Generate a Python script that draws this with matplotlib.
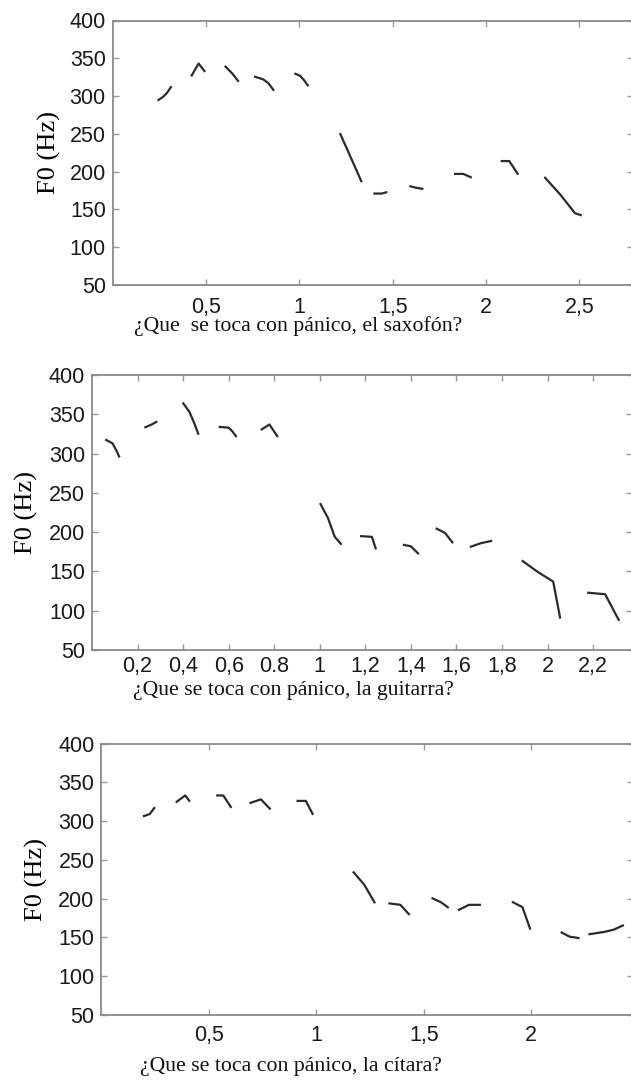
import numpy as np
import matplotlib.pyplot as plt

nan = np.nan

# F0 contours, segments separated by nan
sax_t = [0.24, 0.27, 0.29, 0.315, nan,
         0.42, 0.46, 0.495, nan,
         0.60, 0.64, 0.675, nan,
         0.757, 0.807, 0.834, 0.864, nan,
         0.973, 1.003, 1.025, 1.048, nan,
         1.217, 1.334, nan,
         1.396, 1.44, 1.471, nan,
         1.589, 1.619, 1.664, nan,
         1.828, 1.878, 1.923, nan,
         2.078, 2.124, 2.172, nan,
         2.312, 2.396, 2.476, 2.512]
sax_f = [294, 299, 304, 313, nan,
         326, 343, 332, nan,
         340, 330, 319, nan,
         326, 322, 317, 307, nan,
         330, 327, 321, 313, nan,
         251, 186, nan,
         171, 171, 173, nan,
         181, 179, 177, nan,
         197, 197, 192, nan,
         214, 214, 196, nan,
         193, 170, 145, 142]

gui_t = [0.058, 0.090, 0.107, 0.121, nan,
         0.230, 0.262, 0.287, nan,
         0.398, 0.428, 0.450, 0.468, nan,
         0.556, 0.600, 0.617, 0.635, nan,
         0.741, 0.779, 0.816, nan,
         1.001, 1.036, 1.066, 1.096, nan,
         1.177, 1.229, 1.247, nan,
         1.365, 1.400, 1.435, nan,
         1.509, 1.550, 1.585, nan,
         1.659, 1.708, 1.757, nan,
         1.887, 1.954, 2.025, 2.056, nan,
         2.174, 2.253, 2.315]
gui_f = [318, 313, 304, 295, nan,
         333, 337, 341, nan,
         365, 353, 338, 324, nan,
         334, 333, 328, 321, nan,
         330, 337, 321, nan,
         237, 218, 194, 184, nan,
         195, 194, 178, nan,
         184, 182, 172, nan,
         205, 199, 186, nan,
         181, 186, 189, nan,
         164, 150, 137, 90, nan,
         123, 121, 87]

cit_t = [0.193, 0.225, 0.249, nan,
         0.346, 0.390, 0.412, nan,
         0.534, 0.567, 0.605, nan,
         0.689, 0.742, 0.787, nan,
         0.908, 0.951, 0.985, nan,
         1.170, 1.223, 1.273, nan,
         1.335, 1.391, 1.434, nan,
         1.536, 1.582, 1.616, nan,
         1.659, 1.710, 1.766, nan,
         1.910, 1.959, 1.996, nan,
         2.137, 2.178, 2.225, nan,
         2.266, 2.337, 2.384, 2.431]
cit_f = [306, 309, 318, nan,
         324, 333, 325, nan,
         333, 333, 317, nan,
         323, 328, 315, nan,
         326, 326, 308, nan,
         235, 218, 194, nan,
         194, 192, 179, nan,
         201, 195, 188, nan,
         185, 192, 192, nan,
         196, 189, 160, nan,
         157, 151, 149, nan,
         154, 157, 160, 166]

sax_ticks = [0.5, 1, 1.5, 2, 2.5]
sax_labels = ['0,5', '1', '1,5', '2', '2,5']
gui_ticks = [0.2, 0.4, 0.6, 0.8, 1, 1.2, 1.4, 1.6, 1.8, 2, 2.2]
gui_labels = ['0,2', '0,4', '0,6', '0.8', '1', '1,2', '1,4', '1,6', '1,8', '2', '2,2']
cit_ticks = [0.5, 1, 1.5, 2]
cit_labels = ['0,5', '1', '1,5', '2']
f_ticks = [50, 100, 150, 200, 250, 300, 350, 400]

titles = ['¿Que  se toca con pánico, el saxofón?',
          '¿Que se toca con pánico, la guitarra?',
          '¿Que se toca con pánico, la cítara?']

W, H = 631, 1086
fig = plt.figure(figsize=(W / 100, H / 100), dpi=100)


def px_axes(left, top, right, bottom):
    return fig.add_axes([left / W, 1 - bottom / H, (right - left) / W, (bottom - top) / H])


def draw_panel(ax, t, f, xmax, ticks, labels, xpad, title, title_x, title_y, ylab_x):
    ax.plot(t, f, color='#2b2b2b', lw=1.6, solid_capstyle='butt')
    ax.set_xlim(0, xmax)
    ax.set_ylim(50, 400)
    ax.set_xticks(ticks)
    ax.set_xticklabels(labels)
    ax.set_yticks(f_ticks)
    for s in ax.spines.values():
        s.set_color('#8a8a8a')
        s.set_linewidth(1.3)
    ax.tick_params(direction='in', length=4, width=1, color='#9a9a9a',
                   top=True, right=True, labelsize=15.5, labelcolor='#1a1a1a')
    ax.tick_params(axis='x', pad=xpad)
    ax.tick_params(axis='y', pad=5)
    for lab in ax.get_xticklabels() + ax.get_yticklabels():
        lab.set_family('Liberation Sans')
    ax.set_ylabel('F0 (Hz)', family='Liberation Serif', fontsize=19)
    ax.yaxis.set_label_coords(ylab_x, 0.5)
    fig.text(title_x / W, 1 - title_y / H, title, family='Liberation Serif',
             fontsize=15.7, ha='center', va='center', color='#111111')


ax1 = px_axes(112.7, 20.5, 632.5, 285)
draw_panel(ax1, sax_t, sax_f, 2.784, sax_ticks, sax_labels, 8.5,
           titles[0], 298, 326, -0.10)

ax2 = px_axes(92, 375, 632, 650)
draw_panel(ax2, gui_t, gui_f, 2.371, gui_ticks, gui_labels, 4.5,
           titles[1], 293, 691, -0.10)

ax3 = px_axes(101.4, 743.5, 632.5, 1015)
draw_panel(ax3, cit_t, cit_f, 2.471, cit_ticks, cit_labels, 7,
           titles[2], 291, 1067, -0.10)

fig.savefig('out.png', dpi=100)
